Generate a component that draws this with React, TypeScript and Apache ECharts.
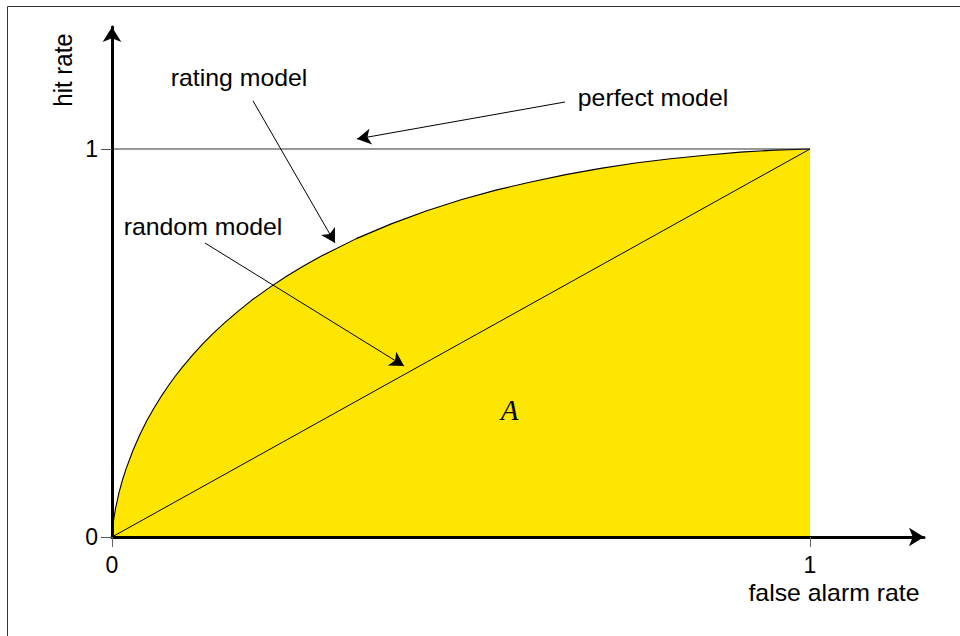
import React, { useEffect, useRef } from "react";
import * as echarts from "echarts";

// ROC curve of the rating model (false alarm rate, hit rate)
const falseAlarmRates = [0, 0.0003, 0.001, 0.002, 0.003, 0.005, 0.01, 0.015, 0.02, 0.03, 0.04, 0.05, 0.06, 0.07, 0.08, 0.09, 0.1, 0.115, 0.13, 0.145, 0.16, 0.18, 0.2, 0.225, 0.25, 0.275, 0.3, 0.35, 0.4, 0.45, 0.5, 0.55, 0.6, 0.65, 0.7, 0.75, 0.8, 0.85, 0.9, 0.95, 1];
const hitRates = [0, 0.0104, 0.024, 0.039, 0.0518, 0.073, 0.114, 0.147, 0.175, 0.223, 0.264, 0.3, 0.332, 0.361, 0.388, 0.413, 0.436, 0.468, 0.498, 0.525, 0.55, 0.581, 0.61, 0.642, 0.672, 0.699, 0.724, 0.769, 0.807, 0.84, 0.869, 0.894, 0.915, 0.934, 0.95, 0.964, 0.975, 0.984, 0.992, 0.997, 1];

// random model (diagonal) and perfect model (hit rate 1)
const randomModel = [[0, 0], [1, 1]];
const perfectModel = [[0, 1], [1, 1]];

// axis ticks
const xTickValues = [0, 1];
const yTickValues = [0, 1];
const xAxisMax = 1.1633;
const yAxisMax = 1.3144;

// annotation arrows: [fromX, fromY, toX, toY] in data units
const ratingArrow = [0.202, 1.124, 0.3195, 0.7577];
const perfectArrow = [0.649, 1.1211, 0.351, 1.0258];
const randomArrow = [0.1332, 0.7577, 0.4183, 0.4407];

// texts
const xAxisTitle = "false alarm rate";
const yAxisTitle = "hit rate";
const ratingLabel = "rating model";
const perfectLabel = "perfect model";
const randomLabel = "random model";
const areaLabel = "A";

const SANS = "'Liberation Sans', Arial, Helvetica, sans-serif";

export default function App() {
  const ref = useRef<HTMLDivElement>(null);

  useEffect(() => {
    if (!ref.current) return;
    const chart = echarts.init(ref.current, null, { renderer: "svg" });

    const curve = falseAlarmRates.map((x, i) => [x, hitRates[i]]);
    const arrow = (a: number[]) => [{ coord: [a[0], a[1]] }, { coord: [a[2], a[3]] }];

    const htext = (text: string, x: number, y: number, size = 23) => ({
      type: "text",
      x,
      y,
      scaleX: 1.08,
      style: {
        text,
        fill: "#000",
        font: `${size}px ${SANS}`,
        align: "center",
        verticalAlign: "middle",
      },
      z: 20,
    });

    const option: any = {
      animation: false,
      backgroundColor: "#fff",
      grid: { left: 112, right: 36, top: 27, bottom: 99, containLabel: false },
      xAxis: {
        type: "value",
        min: 0,
        max: xAxisMax,
        z: 10,
        axisLine: {
          show: true,
          symbol: ["none", "arrow"],
          symbolSize: [14, 15],
          lineStyle: { color: "#000", width: 3 },
        },
        axisTick: {
          show: true,
          customValues: xTickValues,
          length: 10,
          lineStyle: { color: "#666", width: 1 },
        },
        axisLabel: {
          customValues: xTickValues,
          margin: 16,
          color: "#000",
          fontSize: 23,
          fontFamily: SANS,
        },
        splitLine: { show: false },
      },
      yAxis: {
        type: "value",
        min: 0,
        max: yAxisMax,
        z: 10,
        axisLine: {
          show: true,
          symbol: ["none", "arrow"],
          symbolSize: [14, 15],
          lineStyle: { color: "#000", width: 3 },
        },
        axisTick: {
          show: true,
          customValues: yTickValues,
          length: 11,
          lineStyle: { color: "#555", width: 1 },
        },
        axisLabel: {
          customValues: yTickValues,
          margin: 14,
          color: "#000",
          fontSize: 23,
          fontFamily: SANS,
        },
        splitLine: { show: false },
      },
      series: [
        {
          type: "line",
          name: "rating model",
          data: curve,
          showSymbol: false,
          smooth: false,
          lineStyle: { color: "#000", width: 1.1 },
          areaStyle: { color: "#FFE600", opacity: 1 },
          z: 2,
        },
        {
          type: "line",
          name: "random model",
          data: randomModel,
          showSymbol: false,
          lineStyle: { color: "#000", width: 1 },
          z: 3,
        },
        {
          type: "line",
          name: "perfect model",
          data: perfectModel,
          showSymbol: false,
          lineStyle: { color: "#333", width: 1 },
          z: 3,
          markLine: {
            silent: true,
            symbol: ["none", "arrow"],
            symbolSize: [12, 14],
            label: { show: false },
            lineStyle: { color: "#000", width: 1, type: "solid" },
            data: [arrow(ratingArrow), arrow(perfectArrow), arrow(randomArrow)],
          },
        },
      ],
      graphic: [
        {
          type: "rect",
          shape: { x: 7.5, y: 6.5, width: 2000, height: 2000 },
          style: { fill: "none", stroke: "#333", lineWidth: 1 },
          z: 0,
          silent: true,
        },
        {
          type: "text",
          x: 63,
          y: 70,
          rotation: Math.PI / 2,
          scaleY: 1.07,
          style: {
            text: yAxisTitle,
            fill: "#000",
            font: `24px ${SANS}`,
            align: "center",
            verticalAlign: "middle",
          },
          z: 20,
        },
        htext(ratingLabel, 239, 78),
        htext(perfectLabel, 653, 98),
        htext(randomLabel, 203, 227),
        htext(xAxisTitle, 834, 593),
        {
          type: "text",
          x: 509.5,
          y: 410,
          style: {
            text: areaLabel,
            fill: "#000",
            font: `italic 29px 'Liberation Serif', 'Times New Roman', serif`,
            align: "center",
            verticalAlign: "middle",
          },
          z: 20,
        },
      ],
    };

    chart.setOption(option);
    return () => chart.dispose();
  }, []);

  return (
    <div
      ref={ref}
      style={{ position: "fixed", left: 0, top: 0, width: 960, height: 636, background: "#fff" }}
    />
  );
}
